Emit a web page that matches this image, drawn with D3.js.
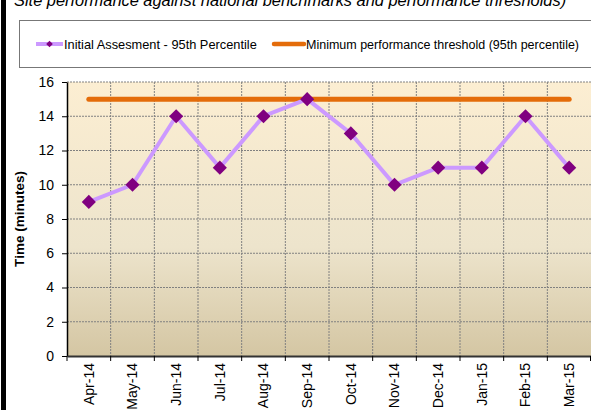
<!DOCTYPE html>
<html>
<head>
<meta charset="utf-8">
<script src="https://cdn.jsdelivr.net/npm/d3@7"></script>
<style>
  body { margin: 0; background: #fff; }
  svg { display: block; font-family: Arial, "Liberation Sans", sans-serif; }
</style>
</head>
<body>
<div id="chart"></div>
<script>
const months = ['Apr-14','May-14','Jun-14','Jul-14','Aug-14','Sep-14','Oct-14','Nov-14','Dec-14','Jan-15','Feb-15','Mar-15'];
const initialAssessment = [9,10,14,11,14,15,13,10,11,11,14,11];
const threshold = [15,15,15,15,15,15,15,15,15,15,15,15];
const yTicks = [0,2,4,6,8,10,12,14,16];
const seriesNames = ['Initial Assesment - 95th Percentile', 'Minimum performance threshold (95th percentile)'];

const width = 591, height = 410;
const margin = {top: 82, right: 0, bottom: 54, left: 67};

const svg = d3.select('#chart').append('svg')
  .attr('width', width).attr('height', height);

// left border
svg.append('rect').attr('x', 1).attr('y', 0).attr('width', 5).attr('height', height).attr('fill', '#000');

// title (clipped at the top, as in the source)
svg.append('text')
  .attr('x', 14).attr('y', 6)
  .attr('font-size', 16.4).attr('font-style', 'italic')
  .text('Site performance against national  benchmarks and performance thresholds)');

// legend box
svg.append('rect').attr('x', 19.5).attr('y', 20.5).attr('width', 600).attr('height', 47)
  .attr('fill', '#fff').attr('stroke', '#777').attr('stroke-width', 1);

const x = d3.scaleBand().domain(months).range([margin.left, width - margin.right]);
const y = d3.scaleLinear().domain([0, 16]).range([height - margin.bottom, margin.top]);

// background gradient
const grad = svg.append('defs').append('linearGradient').attr('id', 'bg')
  .attr('x1', 0).attr('y1', 0).attr('x2', 0).attr('y2', 1);
grad.append('stop').attr('offset', '0%').attr('stop-color', '#FCEED2');
grad.append('stop').attr('offset', '60%').attr('stop-color', '#EDE4CC');
grad.append('stop').attr('offset', '100%').attr('stop-color', '#D4C6A3');

svg.append('rect')
  .attr('x', margin.left).attr('y', y(16))
  .attr('width', width - margin.right - margin.left).attr('height', y(0) - y(16))
  .attr('fill', 'url(#bg)');

// gridlines
svg.append('g').selectAll('line').data(yTicks.filter(d => d > 0)).join('line')
  .attr('x1', margin.left).attr('x2', width)
  .attr('y1', d => y(d)).attr('y2', d => y(d))
  .attr('stroke', '#808080').attr('stroke-width', 1).attr('stroke-dasharray', '2,1');
svg.append('g').selectAll('line').data(months.slice(1)).join('line')
  .attr('x1', d => x(d)).attr('x2', d => x(d))
  .attr('y1', y(16)).attr('y2', y(0))
  .attr('stroke', '#808080').attr('stroke-width', 1).attr('stroke-dasharray', '2,1');

// y axis
const yAxis = svg.append('g').attr('transform', `translate(${margin.left},0)`)
  .call(d3.axisLeft(y).tickValues(yTicks).tickSize(5).tickSizeOuter(0).tickPadding(8));
yAxis.select('.domain').attr('stroke', '#000').attr('stroke-width', 1.5);
yAxis.selectAll('.tick line').attr('stroke', '#000');
yAxis.selectAll('text').attr('font-size', 14).attr('font-family', 'Arial, "Liberation Sans", sans-serif').attr('fill', '#000');

// x axis
const xAxis = svg.append('g').attr('transform', `translate(0,${y(0)})`)
  .call(d3.axisBottom(x).tickSize(0).tickSizeOuter(0));
xAxis.select('.domain').attr('stroke', '#333').attr('stroke-width', 2);
xAxis.selectAll('.tick text')
  .attr('font-size', 14).attr('font-family', 'Arial, "Liberation Sans", sans-serif').attr('fill', '#000')
  .attr('transform', 'rotate(-90)')
  .attr('text-anchor', 'end').attr('x', -7).attr('y', 0).attr('dy', '0.35em');
// tick marks at category boundaries
svg.append('g').selectAll('line').data(months).join('line')
  .attr('x1', d => x(d)).attr('x2', d => x(d))
  .attr('y1', y(0)).attr('y2', y(0) + 5)
  .attr('stroke', '#000');
svg.append('line').attr('x1', width - 0.5).attr('x2', width - 0.5).attr('y1', y(0)).attr('y2', y(0) + 5).attr('stroke', '#000');

// y title
svg.append('text')
  .attr('transform', `translate(24,${(y(0) + y(16)) / 2}) rotate(-90)`)
  .attr('text-anchor', 'middle').attr('font-size', 13.5).attr('font-weight', 'bold')
  .text('Time (minutes)');

const cx = d => x(d) + x.bandwidth() / 2;

// threshold line
svg.append('path')
  .datum(threshold)
  .attr('fill', 'none').attr('stroke', '#E46C0A').attr('stroke-width', 5).attr('stroke-linecap', 'round')
  .attr('d', d3.line().x((d, i) => cx(months[i])).y(d => y(d)));

// assessment line
svg.append('path')
  .datum(initialAssessment)
  .attr('fill', 'none').attr('stroke', '#CC99FF').attr('stroke-width', 4)
  .attr('d', d3.line().x((d, i) => cx(months[i])).y(d => y(d)));

svg.append('g').selectAll('path').data(initialAssessment).join('path')
  .attr('transform', (d, i) => `translate(${cx(months[i])},${y(d)}) rotate(45)`)
  .attr('d', d3.symbol().type(d3.symbolSquare).size(100))
  .attr('fill', '#800080');

// legend
const legY = 44;
const leg = svg.append('g');
leg.append('line').attr('x1', 36).attr('x2', 63).attr('y1', legY).attr('y2', legY)
  .attr('stroke', '#CC99FF').attr('stroke-width', 4);
leg.append('path').attr('transform', `translate(49.5,${legY}) rotate(45)`)
  .attr('d', d3.symbol().type(d3.symbolSquare).size(22)).attr('fill', '#800080');
leg.append('text').attr('x', 64).attr('y', legY + 4.5).attr('font-size', 12.8).text(seriesNames[0]);
leg.append('line').attr('x1', 274).attr('x2', 304).attr('y1', legY).attr('y2', legY)
  .attr('stroke', '#E46C0A').attr('stroke-width', 4.5).attr('stroke-linecap', 'round');
leg.append('text').attr('x', 306).attr('y', legY + 4.5).attr('font-size', 12.5).text(seriesNames[1]);
</script>
</body>
</html>
